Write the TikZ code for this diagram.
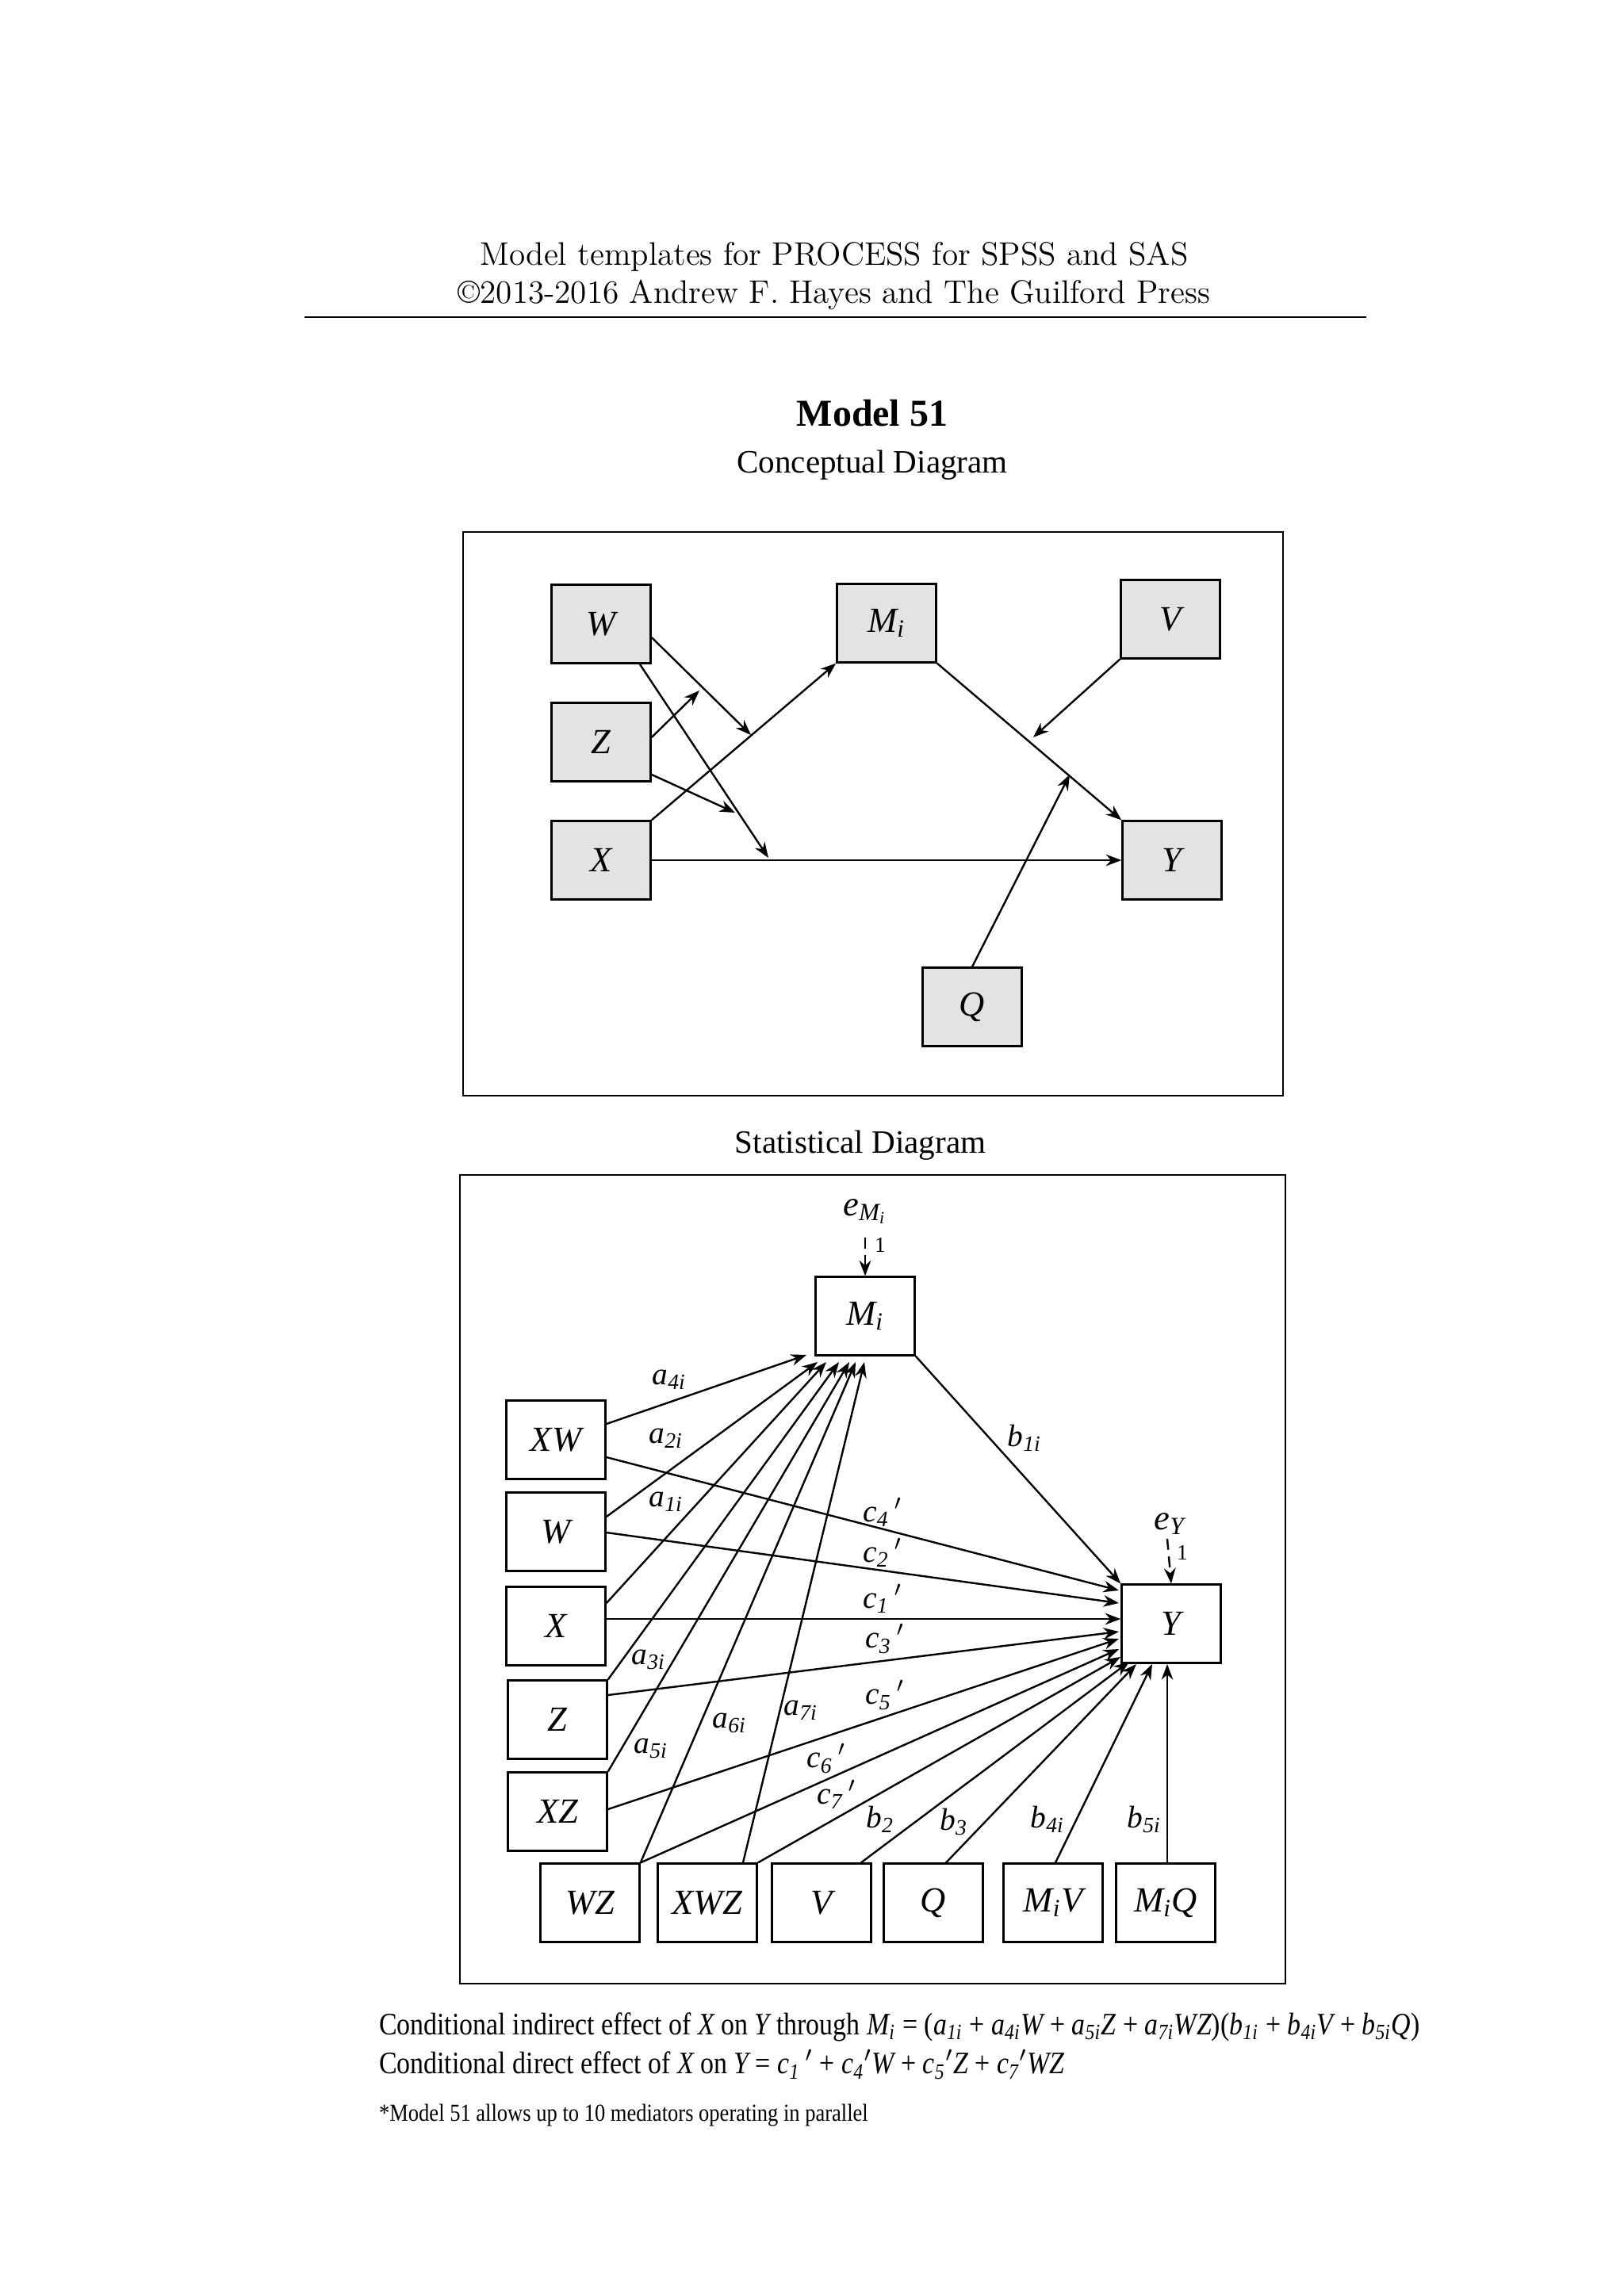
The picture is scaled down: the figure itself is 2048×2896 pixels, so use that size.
\documentclass[tikz,border=0pt]{standalone}
\usepackage{fontspec}
\usepackage{tikz}
\usetikzlibrary{positioning, arrows.meta}
\newfontfamily\tms{Liberation Serif}
\newfontfamily\tmsc{Liberation Serif}[FakeStretch=0.86]
\newcommand{\tv}[1]{{\itshape #1}}

\tikzset{
  box/.style={draw, line width=0.8pt, minimum width=1.28cm, minimum height=1.01cm, font=\fontsize{13}{15}\selectfont\tms\itshape},
  cbox/.style={box, fill=black!11},
  arr/.style={line width=0.7pt, -{Stealth[length=2mm,width=1.5mm]}},
  err/.style={line width=0.7pt, dash pattern=on 4pt off 2.5pt, -{Stealth[length=2mm,width=1.5mm]}},
  lbl/.style={font=\fontsize{11.5}{13}\selectfont\tms\itshape, inner sep=1pt}
}

\begin{document}
\begin{tikzpicture}[x=0.01025cm, y=-0.01025cm]
  \useasboundingbox (0,0) rectangle (2048,2896);

  % header
  \node[font=\fontsize{12}{15}\selectfont] at (1052,324) {Model templates for PROCESS for SPSS and SAS};
  \node[font=\fontsize{12}{15}\selectfont] at (1052,372) {\textcopyright2013-2016 Andrew F. Hayes and The Guilford Press};
  \draw[line width=0.5pt] (384,400) -- (1723,400);
  \node[font=\fontsize{14}{16}\selectfont\tms\bfseries] at (1100,521) {Model 51};
  \node[font=\fontsize{12}{15}\selectfont\tms] at (1100,587) {Conceptual Diagram};
  \node[font=\fontsize{12}{15}\selectfont\tms] at (1085,1445) {Statistical Diagram};

  % conceptual diagram
  \draw[line width=0.7pt] (584,671) rectangle (1618,1382);
  \node[cbox] (cW) at (758,787) {W};
  \node[cbox] (cZ) at (758,936) {Z};
  \node[cbox] (cX) at (758,1085) {X};
  \node[cbox] (cM) at (1118,786) {M\textsubscript{i}};
  \node[cbox] (cV) at (1476,781) {V};
  \node[cbox] (cY) at (1478,1085) {Y};
  \node[cbox] (cQ) at (1226,1270) {Q};
  \coordinate (pXM) at (947,927);
  \coordinate (pZM) at (882,871);
  \coordinate (pXY) at (969,1082);
  \coordinate (pWY) at (927,1025);
  \coordinate (pV) at (1303,930);
  \coordinate (pQ) at (1349,977);
  \draw[arr] (cX.north east) -- (cM.south west);
  \draw[arr] (cX.east) -- (cY.west);
  \draw[arr] (cM.south east) -- (cY.north west);
  \draw[arr] (cV.south west) -- (pV);
  \draw[arr] (cQ.north) -- (pQ);
  \draw[arr] (cW.east) ++(0,17) -- (pXM);
  \draw[arr] (cW.south east) ++(-15,0) -- (pXY);
  \draw[arr] (cZ.east) ++(0,-6) -- (pZM);
  \draw[arr] (cZ.east) ++(0,41) -- (pWY);

  % statistical diagram
  \draw[line width=0.7pt] (580,1482) rectangle (1621,2502);
  \node[box] (M) at (1091,1660) {M\textsubscript{i}};
  \node[box] (Y) at (1477,2048) {Y};
  \node[box] (XW) at (701,1816) {XW};
  \node[box] (W) at (701,1932) {W};
  \node[box] (X) at (701,2051) {X};
  \node[box] (Z) at (703,2169) {Z};
  \node[box] (XZ) at (703,2285) {XZ};
  \node[box] (WZ) at (744,2400) {WZ};
  \node[box] (XWZ) at (892,2400) {XWZ};
  \node[box] (V) at (1036,2400) {V};
  \node[box] (Q) at (1177,2400) {Q};
  \node[box] (MV) at (1328,2400) {M\textsubscript{i}V};
  \node[box] (MQ) at (1470,2400) {M\textsubscript{i}Q};

  % errors
  \node[lbl, font=\fontsize{13}{15}\selectfont\tms\itshape] (eM) at (1091,1528) {e\textsubscript{M\textsubscript{i}}};
  \draw[err] (1091,1561) -- (M.north);
  \node[lbl, font=\fontsize{8}{9}\selectfont\tms] at (1110,1570) {1};
  \node[lbl, font=\fontsize{13}{15}\selectfont\tms\itshape] (eY) at (1475,1922) {e\textsubscript{Y}};
  \draw[err] (1472,1941) -- (Y.north);
  \node[lbl, font=\fontsize{8}{9}\selectfont\tms] at (1491,1958) {1};

  % a paths
  \draw[arr] (XW.east) ++(0,-20) -- (1017,1709);
  \draw[arr] (W.east) ++(0,-19) -- (1031,1718);
  \draw[arr] (X.east) ++(0,-29) -- (1042,1718);
  \draw[arr] (Z.north east) -- (1058,1718);
  \draw[arr] (XZ.north east) -- (1071,1718);
  \draw[arr] (WZ.north east) -- (1079,1718);
  \draw[arr] (XWZ.north) ++(45,0) -- (1090,1718);
  \node[lbl] at (844,1740) {a\textsubscript{4i}};
  \node[lbl] at (840,1814) {a\textsubscript{2i}};
  \node[lbl] at (840,1894) {a\textsubscript{1i}};
  \node[lbl] at (818,2093) {a\textsubscript{3i}};
  \node[lbl] at (821,2205) {a\textsubscript{5i}};
  \node[lbl] at (920,2173) {a\textsubscript{6i}};
  \node[lbl] at (1010,2157) {a\textsubscript{7i}};

  % b and c paths
  \draw[arr] (M.south east) -- (Y.north west);
  \draw[arr] (XW.east) ++(0,22) -- (1411,2006);
  \draw[arr] (W.east) ++(0,1) -- (1411,2022);
  \draw[arr] (X.east) ++(0,-9) -- (Y.west |- 0,2042);
  \draw[arr] (Z.east) ++(0,-31) -- (1411,2058);
  \draw[arr] (XZ.east) ++(0,-3) -- (1411,2067);
  \draw[arr] (WZ.north east) -- (1411,2080);
  \draw[arr] (XWZ.north east) -- (1413,2090);
  \draw[arr] (V.north east) ++(-14,0) -- (1424,2096);
  \draw[arr] (Q.north) ++(16,0) -- (1433,2099);
  \draw[arr] (MV.north) ++(3,0) -- (1453,2099);
  \draw[arr] (MQ.north) ++(2,0) -- (1472,2099);
  \node[lbl] at (1292,1814) {b\textsubscript{1i}};
  \node[lbl] at (1113,1907) {c\textsubscript{4}\tms\,$'$};
  \node[lbl] at (1113,1958) {c\textsubscript{2}\tms\,$'$};
  \node[lbl] at (1113,2016) {c\textsubscript{1}\tms\,$'$};
  \node[lbl] at (1116,2067) {c\textsubscript{3}\tms\,$'$};
  \node[lbl] at (1116,2138) {c\textsubscript{5}\tms\,$'$};
  \node[lbl] at (1042,2218) {c\textsubscript{6}\tms\,$'$};
  \node[lbl] at (1055,2263) {c\textsubscript{7}\tms\,$'$};
  \node[lbl] at (1110,2295) {b\textsubscript{2}};
  \node[lbl] at (1203,2298) {b\textsubscript{3}};
  \node[lbl] at (1321,2295) {b\textsubscript{4i}};
  \node[lbl] at (1443,2295) {b\textsubscript{5i}};

  % effects
  \node[anchor=west, font=\fontsize{11.5}{14}\selectfont\tmsc] at (466,2557)
    {Conditional indirect effect of \tv{X} on \tv{Y} through \tv{M\textsubscript{i}} = (\tv{a\textsubscript{1i}} + \tv{a\textsubscript{4i}W} + \tv{a\textsubscript{5i}Z} + \tv{a\textsubscript{7i}WZ})(\tv{b\textsubscript{1i}} + \tv{b\textsubscript{4i}V} + \tv{b\textsubscript{5i}Q})};
  \node[anchor=west, font=\fontsize{11.5}{14}\selectfont\tmsc] at (466,2604)
    {Conditional direct effect of \tv{X} on \tv{Y} = \tv{c\textsubscript{1}\,$'$} + \tv{c\textsubscript{4}$'$W} + \tv{c\textsubscript{5}$'$Z} + \tv{c\textsubscript{7}$'$WZ}};
  \node[anchor=west, font=\fontsize{9}{11}\selectfont\tmsc] at (466,2668)
    {*Model 51 allows up to 10 mediators operating in parallel};
\end{tikzpicture}
\end{document}
